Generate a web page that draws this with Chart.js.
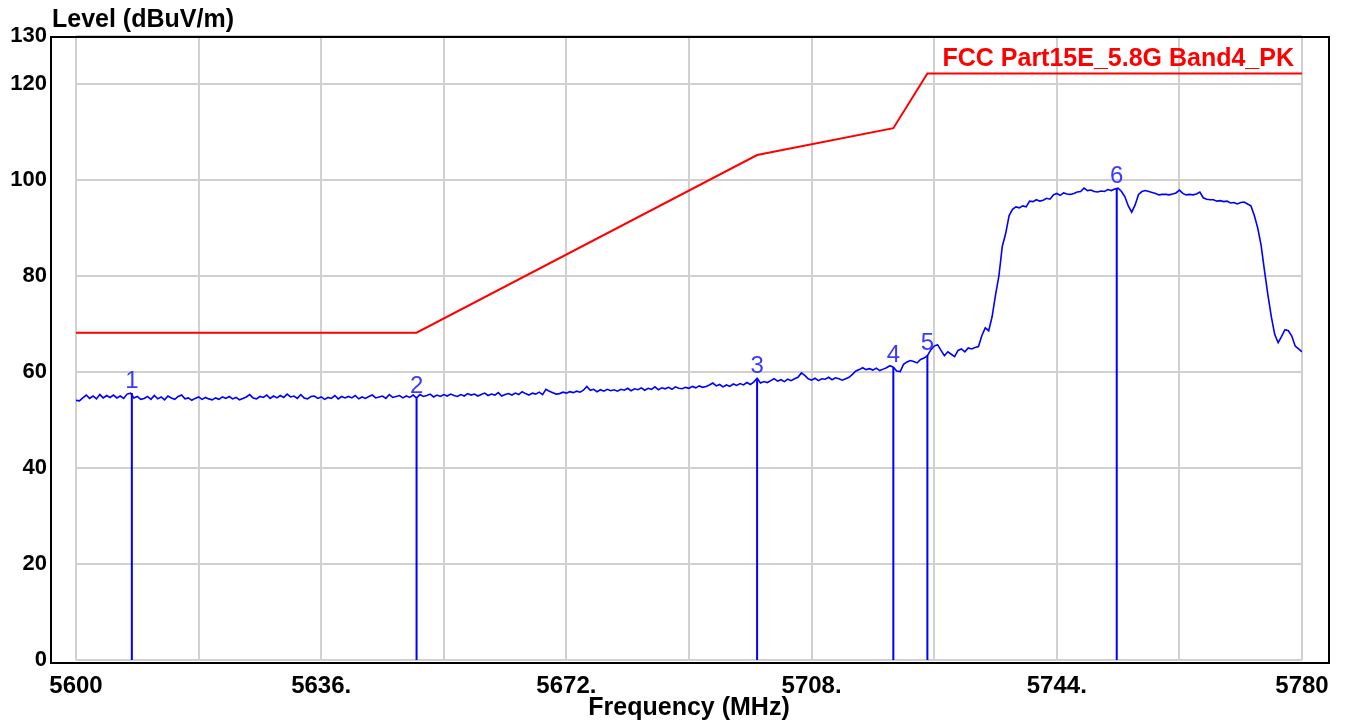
<!DOCTYPE html>
<html>
<head>
<meta charset="utf-8">
<script src="https://cdn.jsdelivr.net/npm/chart.js@4.4.0/dist/chart.umd.min.js"></script>
<style>
  html, body { margin: 0; padding: 0; background: #fff; }
  #wrap { width: 1348px; height: 727px; }
</style>
</head>
<body>
<div id="wrap"><canvas id="myChart" width="1348" height="727"></canvas></div>
<script>
// Dados do gráfico
const yTitle = 'Level (dBuV/m)';
const xTitle = 'Frequency (MHz)';
const limitName = 'FCC Part15E_5.8G Band4_PK';

const xTickValues = [5600, 5618, 5636, 5654, 5672, 5690, 5708, 5726, 5744, 5762, 5780];
const xTickLabels = ['5600', '', '5636.', '', '5672.', '', '5708.', '', '5744.', '', '5780'];
const yTickValues = [0, 20, 40, 60, 80, 100, 120, 130];
const yTickLabels = ['0', '20', '40', '60', '80', '100', '120', '130'];

// linha limite (vermelha)
const limitFreqs = [5600, 5650, 5700, 5720, 5725, 5780];
const limitLevels = [68.2, 68.2, 105.2, 110.8, 122.2, 122.2];

// marcadores 1..6
const markerFreqs = [5608.2, 5650.0, 5700.0, 5720.0, 5725.0, 5752.8];
const markerLevels = [55.6, 54.6, 58.7, 61.0, 63.5, 98.3];

// varredura (azul)
const traceFreqs = [
  5600,5600.5,5601,5601.5,5602,5602.5,5603,5603.5,5604,5604.5,5605,5605.5,5606,5606.5,5607,5607.5,5608,5608.5,5609,5609.5,
  5610,5610.5,5611,5611.5,5612,5612.5,5613,5613.5,5614,5614.5,5615,5615.5,5616,5616.5,5617,5617.5,5618,5618.5,5619,5619.5,
  5620,5620.5,5621,5621.5,5622,5622.5,5623,5623.5,5624,5624.5,5625,5625.5,5626,5626.5,5627,5627.5,5628,5628.5,5629,5629.5,
  5630,5630.5,5631,5631.5,5632,5632.5,5633,5633.5,5634,5634.5,5635,5635.5,5636,5636.5,5637,5637.5,5638,5638.5,5639,5639.5,
  5640,5640.5,5641,5641.5,5642,5642.5,5643,5643.5,5644,5644.5,5645,5645.5,5646,5646.5,5647,5647.5,5648,5648.5,5649,5649.5,
  5650,5650.5,5651,5651.5,5652,5652.5,5653,5653.5,5654,5654.5,5655,5655.5,5656,5656.5,5657,5657.5,5658,5658.5,5659,5659.5,
  5660,5660.5,5661,5661.5,5662,5662.5,5663,5663.5,5664,5664.5,5665,5665.5,5666,5666.5,5667,5667.5,5668,5668.5,5669,5669.5,
  5670,5670.5,5671,5671.5,5672,5672.5,5673,5673.5,5674,5674.5,5675,5675.5,5676,5676.5,5677,5677.5,5678,5678.5,5679,5679.5,
  5680,5680.5,5681,5681.5,5682,5682.5,5683,5683.5,5684,5684.5,5685,5685.5,5686,5686.5,5687,5687.5,5688,5688.5,5689,5689.5,
  5690,5690.5,5691,5691.5,5692,5692.5,5693,5693.5,5694,5694.5,5695,5695.5,5696,5696.5,5697,5697.5,5698,5698.5,5699,5699.5,
  5700,5700.5,5701,5701.5,5702,5702.5,5703,5703.5,5704,5704.5,5705,5705.5,5706,5706.5,5707,5707.5,5708,5708.5,5709,5709.5,
  5710,5710.5,5711,5711.5,5712,5712.5,5713,5713.5,5714,5714.5,5715,5715.5,5716,5716.5,5717,5717.5,5718,5718.5,5719,5719.5,
  5720,5720.5,5721,5721.5,5722,5722.5,5723,5723.5,5724,5724.5,5725,5725.5,5726,5726.5,5727,5727.5,5728,5728.5,5729,5729.5,
  5730,5730.5,5731,5731.5,5732,5732.5,5733,5733.5,5734,5734.5,5735,5735.5,5736,5736.5,5737,5737.5,5738,5738.5,5739,5739.5,
  5740,5740.5,5741,5741.5,5742,5742.5,5743,5743.5,5744,5744.5,5745,5745.5,5746,5746.5,5747,5747.5,5748,5748.5,5749,5749.5,
  5750,5750.5,5751,5751.5,5752,5752.5,5753,5753.5,5754,5754.5,5755,5755.5,5756,5756.5,5757,5757.5,5758,5758.5,5759,5759.5,
  5760,5760.5,5761,5761.5,5762,5762.5,5763,5763.5,5764,5764.5,5765,5765.5,5766,5766.5,5767,5767.5,5768,5768.5,5769,5769.5,
  5770,5770.5,5771,5771.5,5772,5772.5,5773,5773.5,5774,5774.5,5775,5775.5,5776,5776.5,5777,5777.5,5778,5778.5,5779,5779.5,
  5780
];
const traceLevels = [
  54.1,54.0,54.6,55.2,54.5,55.0,54.4,55.3,54.6,55.1,54.7,55.2,54.6,55.0,54.5,55.4,55.6,54.6,54.9,54.3,
  54.5,54.9,54.3,55.1,54.4,54.8,54.2,55.0,54.6,54.3,54.9,55.2,54.4,54.6,54.1,54.5,54.8,54.3,54.7,54.4,
  54.2,54.6,54.3,54.8,54.5,54.9,54.4,54.7,54.2,54.5,54.8,55.3,54.6,54.4,54.9,54.7,55.2,54.5,55.0,54.6,
  55.1,54.7,55.4,54.8,55.0,54.5,55.3,54.6,54.4,54.9,55.0,54.5,54.8,54.3,54.7,54.5,55.1,54.4,54.9,54.6,
  54.9,54.6,55.1,54.4,54.8,54.5,54.9,55.2,54.6,54.8,55.0,54.5,55.3,54.7,54.9,55.1,54.6,55.0,54.7,55.2,
  54.6,55.3,54.9,55.1,55.4,54.8,55.2,54.9,55.3,55.0,55.4,55.1,54.9,55.3,55.0,55.5,55.2,55.4,55.0,55.3,
  55.6,55.1,55.4,55.2,55.7,55.0,55.3,55.5,55.2,55.6,55.3,55.9,55.5,55.2,55.6,55.4,55.8,55.3,56.4,56.0,
  55.7,55.4,55.5,55.8,55.6,55.9,55.7,56.0,55.8,56.2,57.0,56.2,56.4,55.9,56.3,56.0,56.4,56.1,56.3,56.0,
  56.4,56.2,56.6,56.1,56.5,56.3,56.7,56.2,56.6,56.4,56.9,56.3,56.7,56.5,56.8,56.4,56.9,56.6,56.5,56.8,
  56.6,57.0,56.7,57.1,56.8,57.0,57.3,57.7,57.1,57.4,56.9,57.3,57.0,57.5,57.2,57.6,57.3,57.8,57.4,57.9,
  58.7,57.7,58.0,57.8,58.2,58.6,58.1,58.4,58.0,58.5,58.2,58.6,58.9,59.8,59.3,58.6,58.3,58.7,58.2,58.6,
  58.5,58.9,58.4,58.8,58.6,58.3,58.6,58.9,59.5,60.2,60.5,60.9,60.5,60.7,60.4,60.8,60.3,60.6,60.9,61.3,
  61.0,60.2,60.1,61.6,62.1,62.4,62.2,61.9,62.6,62.9,63.4,64.6,65.4,65.7,64.5,63.4,64.2,63.7,63.2,64.5,
  64.8,64.2,65.0,64.8,65.1,65.3,67.6,69.2,68.6,71.5,76.0,80.0,86.2,88.9,92.6,93.9,94.4,94.2,94.6,94.4,
  95.6,95.5,95.9,95.6,95.8,96.2,96.0,96.9,97.2,96.8,97.3,97.1,97.0,97.2,97.5,97.6,98.3,97.8,97.9,97.6,
  97.5,97.7,97.6,98.0,97.8,98.1,98.3,97.6,96.5,94.6,93.3,94.8,97.0,97.6,97.8,97.6,97.4,97.2,96.9,97.0,
  97.0,96.9,97.1,97.3,97.9,97.2,96.9,97.0,96.9,97.1,97.5,96.3,96.0,95.9,95.9,95.6,95.7,95.5,95.6,95.2,
  95.3,95.0,95.3,95.4,95.0,94.6,92.6,90.0,86.4,81.0,76.0,71.5,67.8,66.1,67.4,68.8,68.6,67.5,65.4,64.8,
  64.2
];

const fontFamily = '"Liberation Sans", Arial, sans-serif';

// linhas verticais dos marcadores (do zero até o nível)
let markerPoints = [];
markerFreqs.forEach((f, i) => {
  markerPoints.push({ x: f, y: 0 });
  markerPoints.push({ x: f, y: markerLevels[i] });
  markerPoints.push({ x: f, y: null });
});

const decor = {
  id: 'decor',
  afterDraw(chart) {
    const ctx = chart.ctx;
    const area = chart.chartArea;
    const xs = chart.scales.x;
    const ys = chart.scales.y;
    ctx.save();
    // moldura preta
    ctx.strokeStyle = '#000';
    ctx.lineWidth = 2;
    ctx.strokeRect(area.left - 25, area.top + 1, area.width + 52, area.height + 2);
    // titulo do eixo y
    ctx.fillStyle = '#000';
    ctx.font = 'bold 25px ' + fontFamily;
    ctx.textAlign = 'left';
    ctx.textBaseline = 'alphabetic';
    ctx.fillText(yTitle, area.left - 24, 27);
    // nome do limite
    ctx.fillStyle = '#ff0000';
    ctx.textAlign = 'right';
    ctx.fillText(limitName, area.right - 8, ys.getPixelForValue(limitLevels[limitLevels.length - 1]) - 7);
    // numeros dos marcadores
    ctx.fillStyle = '#3a3aff';
    ctx.font = '24px ' + fontFamily;
    ctx.textAlign = 'center';
    markerFreqs.forEach((f, i) => {
      ctx.fillText(String(i + 1), xs.getPixelForValue(f), ys.getPixelForValue(markerLevels[i]) - 5);
    });
    ctx.restore();
  }
};

let ctx = document.getElementById('myChart').getContext('2d');
let chart = new Chart(ctx, {
  type: 'line',
  data: {
    datasets: [
      {
        label: 'markers',
        data: markerPoints,
        borderColor: '#0000ff',
        borderWidth: 2,
        pointRadius: 0,
        spanGaps: false,
        order: 1
      },
      {
        label: 'trace',
        data: traceFreqs.map((f, i) => ({ x: f, y: traceLevels[i] })),
        borderColor: '#0000ff',
        borderWidth: 1.6,
        pointRadius: 0,
        tension: 0,
        order: 2
      },
      {
        label: limitName,
        data: limitFreqs.map((f, i) => ({ x: f, y: limitLevels[i] })),
        borderColor: '#ff0000',
        borderWidth: 2,
        pointRadius: 0,
        tension: 0,
        order: 3
      }
    ]
  },
  options: {
    responsive: false,
    animation: false,
    devicePixelRatio: 1,
    layout: { padding: { top: 36, right: 46, bottom: 0, left: 0 } },
    plugins: {
      legend: { display: false },
      tooltip: { enabled: false }
    },
    scales: {
      x: {
        type: 'linear',
        min: 5600,
        max: 5780,
        afterBuildTicks: (scale) => { scale.ticks = xTickValues.map((v) => ({ value: v })); },
        afterFit: (scale) => { scale.height = 67; },
        grid: { color: '#d0d0d0', lineWidth: 2, drawTicks: false },
        border: { display: false },
        ticks: {
          autoSkip: false,
          maxRotation: 0,
          padding: 12,
          color: '#000',
          font: { family: fontFamily, size: 24, weight: 'bold' },
          callback: (value, index) => xTickLabels[index]
        },
        title: {
          display: true,
          text: xTitle,
          color: '#000',
          padding: { top: 0, bottom: 4 },
          font: { family: fontFamily, size: 25, weight: 'bold' }
        }
      },
      y: {
        min: 0,
        max: 130,
        afterBuildTicks: (scale) => { scale.ticks = yTickValues.map((v) => ({ value: v })); },
        afterFit: (scale) => {
          scale.width = 76;
          scale.paddingTop = 0;
          scale.paddingBottom = 0;
        },
        grid: { color: '#d0d0d0', lineWidth: 2, drawTicks: false },
        border: { display: false },
        ticks: {
          padding: 29,
          color: '#000',
          font: { family: fontFamily, size: 22, weight: 'bold' },
          callback: (value, index) => yTickLabels[index]
        }
      }
    }
  },
  plugins: [decor]
});
</script>
</body>
</html>
